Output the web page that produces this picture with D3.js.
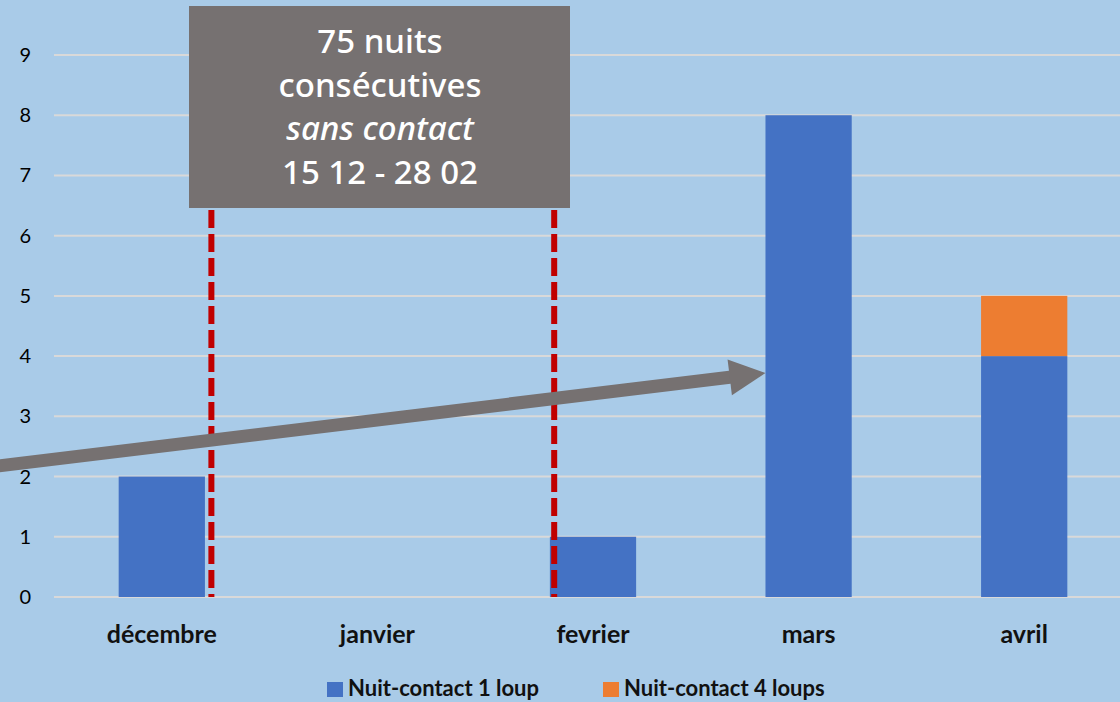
<!DOCTYPE html>
<html>
<head>
<meta charset="utf-8">
<script src="https://cdn.jsdelivr.net/npm/d3@7"></script>
<style>
  body { margin: 0; background: #a9cbe8; }
  svg { display: block; }
</style>
</head>
<body>
<div id="chart"></div>
<script>
// data
var months = ["décembre", "janvier", "fevrier", "mars", "avril"];
var loup1 = [2, 0, 1, 8, 4];
var loup4 = [0, 0, 0, 0, 1];
var seriesNames = ["Nuit-contact 1 loup", "Nuit-contact 4 loups"];
var seriesColors = ["#4472c4", "#ed7d31"];
var yTicks = [0, 1, 2, 3, 4, 5, 6, 7, 8, 9];
var noteLines = ["75 nuits", "consécutives", "sans contact", "15 12 - 28 02"];
// period start / end markers: month + offset in band steps
var periodMarks = [{ month: "décembre", offset: 0.23 }, { month: "fevrier", offset: -0.18 }];
// trend arrow, in data units (y)
var arrowFrom = 2.18, arrowTo = 3.72;

var W = 1120, H = 702;
var margin = { top: 55, right: -12, bottom: 105, left: 54 };

var svg = d3.select("#chart").append("svg")
  .attr("width", W)
  .attr("height", H);

svg.append("rect").attr("width", W).attr("height", H).attr("fill", "#a9cbe8");

var x = d3.scaleBand().domain(months).range([margin.left, W - margin.right]).paddingInner(0.6).paddingOuter(0.3);
var y = d3.scaleLinear().domain([0, 9]).range([H - margin.bottom, margin.top]);

// grid
svg.append("g")
  .selectAll("line")
  .data(yTicks)
  .enter().append("line")
  .attr("x1", margin.left).attr("x2", W)
  .attr("y1", function (d) { return y(d); })
  .attr("y2", function (d) { return y(d); })
  .attr("stroke", "#d9d9d9").attr("stroke-width", 2);

// y labels
svg.append("g")
  .selectAll("text")
  .data(yTicks)
  .enter().append("text")
  .attr("x", 31)
  .attr("y", function (d) { return y(d) + 7; })
  .attr("text-anchor", "end")
  .attr("style", "font-family: Lato, 'Open Sans', sans-serif; font-size: 20px; fill: #000;")
  .text(function (d) { return d; });

// stacked bars
var rows = months.map(function (m, i) { return { month: m, a: loup1[i], b: loup4[i] }; });
var stacked = d3.stack().keys(["a", "b"])(rows);

svg.append("g")
  .selectAll("g")
  .data(stacked)
  .enter().append("g")
  .attr("fill", function (d, i) { return seriesColors[i]; })
  .selectAll("rect")
  .data(function (d) { return d; })
  .enter().append("rect")
  .attr("x", function (d) { return x(d.data.month); })
  .attr("width", x.bandwidth())
  .attr("y", function (d) { return y(d[1]); })
  .attr("height", function (d) { return y(d[0]) - y(d[1]); });

// x labels
svg.append("g")
  .selectAll("text")
  .data(months)
  .enter().append("text")
  .attr("x", function (d) { return x(d) + x.bandwidth() / 2; })
  .attr("y", 643)
  .attr("text-anchor", "middle")
  .attr("style", "font-family: Lato, 'Open Sans', sans-serif; font-size: 25px; font-weight: bold; fill: #111;")
  .text(function (d) { return d; });

// red dashed period markers
svg.append("g")
  .selectAll("line")
  .data(periodMarks)
  .enter().append("line")
  .attr("x1", function (d) { return x(d.month) + x.bandwidth() / 2 + d.offset * x.step(); })
  .attr("x2", function (d) { return x(d.month) + x.bandwidth() / 2 + d.offset * x.step(); })
  .attr("y1", 210)
  .attr("y2", y(0))
  .attr("stroke", "#c00000")
  .attr("stroke-width", 6)
  .attr("stroke-dasharray", "18,6");

// annotation box
var note = svg.append("g");
note.append("rect")
  .attr("x", 189).attr("y", 6).attr("width", 381).attr("height", 202)
  .attr("fill", "#767171");
note.selectAll("text")
  .data(noteLines)
  .enter().append("text")
  .attr("x", 380)
  .attr("y", function (d, i) { return 53 + i * 43.5; })
  .attr("text-anchor", "middle")
  .attr("style", function (d, i) {
    return "font-family: 'Noto Sans', sans-serif; font-size: 33px; font-weight: 500; fill: #fff;" +
      (i == 2 ? " font-style: italic;" : "");
  })
  .text(function (d) { return d; });

// trend arrow
var ax0 = 0, ax1 = x("mars");
var ay0 = y(arrowFrom), ay1 = y(arrowTo);
var ang = Math.atan2(ay1 - ay0, ax1 - ax0);
var headLen = 36, headW = 18;
var bx = ax1 - headLen * Math.cos(ang), by = ay1 - headLen * Math.sin(ang);
var nx = -Math.sin(ang), ny = Math.cos(ang);
svg.append("line")
  .attr("x1", ax0 - 5).attr("y1", ay0 - 5 * Math.tan(ang))
  .attr("x2", bx + 2).attr("y2", by + 2 * Math.tan(ang))
  .attr("stroke", "#767171").attr("stroke-width", 13);
svg.append("path")
  .attr("d", "M" + ax1 + "," + ay1 +
    "L" + (bx + nx * headW) + "," + (by + ny * headW) +
    "L" + (bx - nx * headW) + "," + (by - ny * headW) + "Z")
  .attr("fill", "#767171");

// legend
var legend = svg.append("g").attr("transform", "translate(327,681)");
var lx = [0, 276];
seriesNames.forEach(function (s, i) {
  legend.append("rect")
    .attr("x", lx[i]).attr("y", 1).attr("width", 16).attr("height", 15)
    .attr("fill", seriesColors[i]);
  legend.append("text")
    .attr("x", lx[i] + 21).attr("y", 15)
    .attr("style", "font-family: Lato, 'Open Sans', sans-serif; font-size: 22px; font-weight: bold; fill: #111;")
    .text(s);
});
</script>
</body>
</html>
